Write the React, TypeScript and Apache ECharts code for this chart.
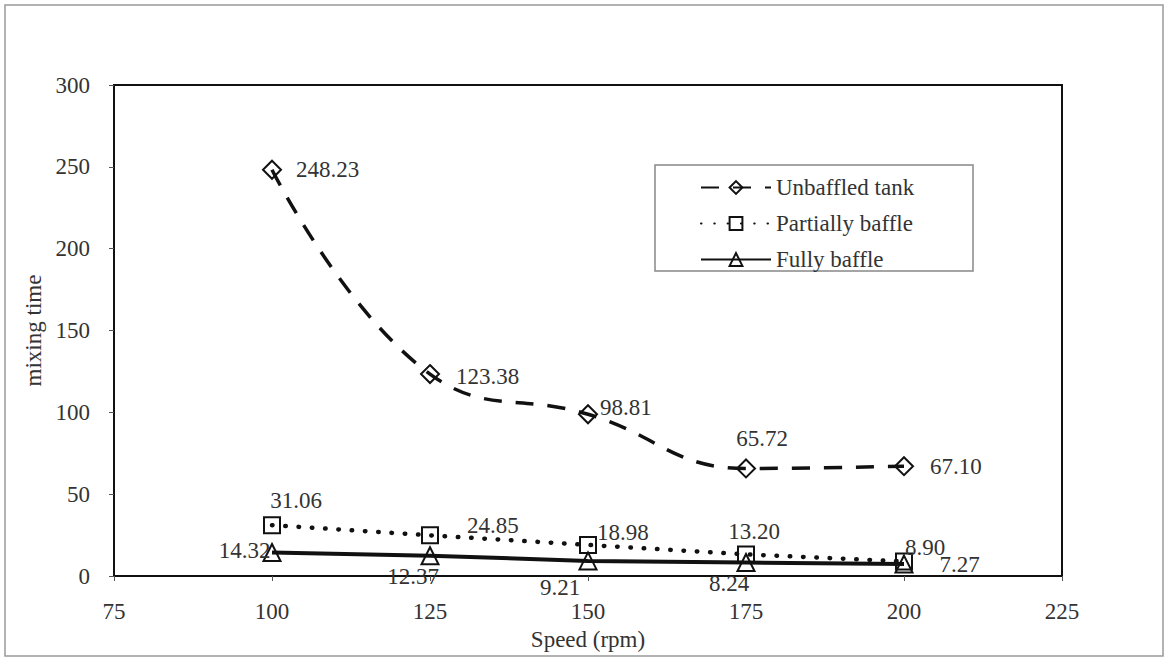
import React, { useEffect, useRef } from "react";
import * as echarts from "echarts";

const speeds = [100, 125, 150, 175, 200];
const unbaffled = [248.23, 123.38, 98.81, 65.72, 67.1];
const partial = [31.06, 24.85, 18.98, 13.2, 8.9];
const fully = [14.32, 12.37, 9.21, 8.24, 7.27];
const seriesNames = ["Unbaffled tank", "Partially baffle", "Fully baffle"];
const xTitle = "Speed (rpm)";
const yTitle = "mixing time";

const FONT = "Liberation Serif";
const TXT = "#333";

// label placement per point (style only)
const unbLabels = [
  { position: "right", distance: 14, offset: [0, 0] },
  { position: "right", distance: 16, offset: [0, 2] },
  { position: "right", distance: 2, offset: [0, -7] },
  { position: "top", distance: 8, offset: [16, 0] },
  { position: "right", distance: 16, offset: [0, 0] },
];
const parLabels = [
  { position: "top", distance: 4, offset: [24, 0] },
  { position: "right", distance: 28, offset: [0, -10] },
  { position: "right", distance: 0, offset: [0, -12] },
  { position: "top", distance: 2, offset: [8, 0] },
  { position: "right", distance: -8, offset: [0, -14] },
];
const fulLabels = [
  { position: "left", distance: -8, offset: [0, -2] },
  { position: "bottom", distance: 0, offset: [-17, 0] },
  { position: "bottom", distance: 6, offset: [-28, 0] },
  { position: "bottom", distance: 0, offset: [-17, 0] },
  { position: "right", distance: 26, offset: [0, 0] },
];

function build(vals: number[], labels: any[]) {
  return vals.map((v, i) => ({
    value: [speeds[i], v],
    label: {
      show: true,
      position: labels[i].position,
      distance: labels[i].distance,
      offset: labels[i].offset,
      formatter: () => v.toFixed(2),
      color: TXT,
      fontSize: 23,
      fontFamily: FONT,
    },
  }));
}

export default function App() {
  const ref = useRef<HTMLDivElement>(null);
  useEffect(() => {
    if (!ref.current) return;
    const chart = echarts.init(ref.current, null, { renderer: "svg" });
    const markerStyle = {
      color: "rgba(255,255,255,0)",
      borderColor: "#111",
      borderWidth: 2,
    };
    chart.setOption({
      animation: false,
      backgroundColor: "#fff",
      textStyle: { fontFamily: FONT },
      graphic: [
        {
          type: "rect",
          shape: { x: 5, y: 5, width: 1158, height: 651 },
          style: { fill: "none", stroke: "#999", lineWidth: 1.5 },
        },
        {
          type: "rect",
          shape: { x: 655, y: 165, width: 318, height: 106 },
          style: { fill: "#fff", stroke: "#888", lineWidth: 1.5 },
          z: 0,
        },
      ],
      grid: {
        left: 114,
        top: 85,
        right: 1168 - 1062,
        bottom: 661 - 576,
        show: true,
        borderColor: "#111",
        borderWidth: 2,
        backgroundColor: "transparent",
      },
      legend: {
        orient: "vertical",
        left: 700 - 8,
        top: 165,
        padding: [11, 8, 3, 8],
        itemWidth: 70,
        itemHeight: 16,
        itemGap: 13,
        z: 10,
        textStyle: { fontSize: 23, color: TXT, fontFamily: FONT, lineHeight: 22 },
        data: seriesNames,
      },
      xAxis: {
        type: "value",
        min: 75,
        max: 225,
        interval: 25,
        name: xTitle,
        nameLocation: "middle",
        nameGap: 37,
        nameTextStyle: { fontSize: 23, color: TXT, fontFamily: FONT },
        axisLine: { lineStyle: { color: "#111", width: 2 } },
        axisTick: { show: true, length: 5, lineStyle: { color: "#555" } },
        axisLabel: { fontSize: 23, color: TXT, fontFamily: FONT, margin: 24 },
        splitLine: { show: false },
      },
      yAxis: {
        type: "value",
        min: 0,
        max: 300,
        interval: 50,
        name: yTitle,
        nameLocation: "middle",
        nameGap: 60,
        nameTextStyle: { fontSize: 23, color: TXT, fontFamily: FONT },
        axisLine: { show: true, lineStyle: { color: "#111", width: 2 } },
        axisTick: { show: true, length: 5, lineStyle: { color: "#555" } },
        axisLabel: { fontSize: 23, color: TXT, fontFamily: FONT, margin: 24 },
        splitLine: { show: false },
      },
      series: [
        {
          name: seriesNames[0],
          type: "line",
          smooth: 0.45,
          symbol: "diamond",
          symbolSize: 18,
          itemStyle: markerStyle,
          lineStyle: { color: "#111", width: 3.5, type: [18, 14] },
          data: build(unbaffled, unbLabels),
          z: 3,
        },
        {
          name: seriesNames[1],
          type: "line",
          symbol: "rect",
          symbolSize: 16,
          itemStyle: markerStyle,
          lineStyle: { color: "#111", width: 4.5, type: [0.5, 12.8], cap: "round" },
          data: build(partial, parLabels),
          z: 3,
        },
        {
          name: seriesNames[2],
          type: "line",
          symbol: "triangle",
          symbolSize: 17,
          itemStyle: markerStyle,
          lineStyle: { color: "#111", width: 4 },
          data: build(fully, fulLabels),
          z: 3,
        },
      ],
    });
    return () => chart.dispose();
  }, []);
  return (
    <div
      ref={ref}
      style={{ position: "fixed", left: 0, top: 0, width: 1168, height: 661, background: "#fff" }}
    />
  );
}
